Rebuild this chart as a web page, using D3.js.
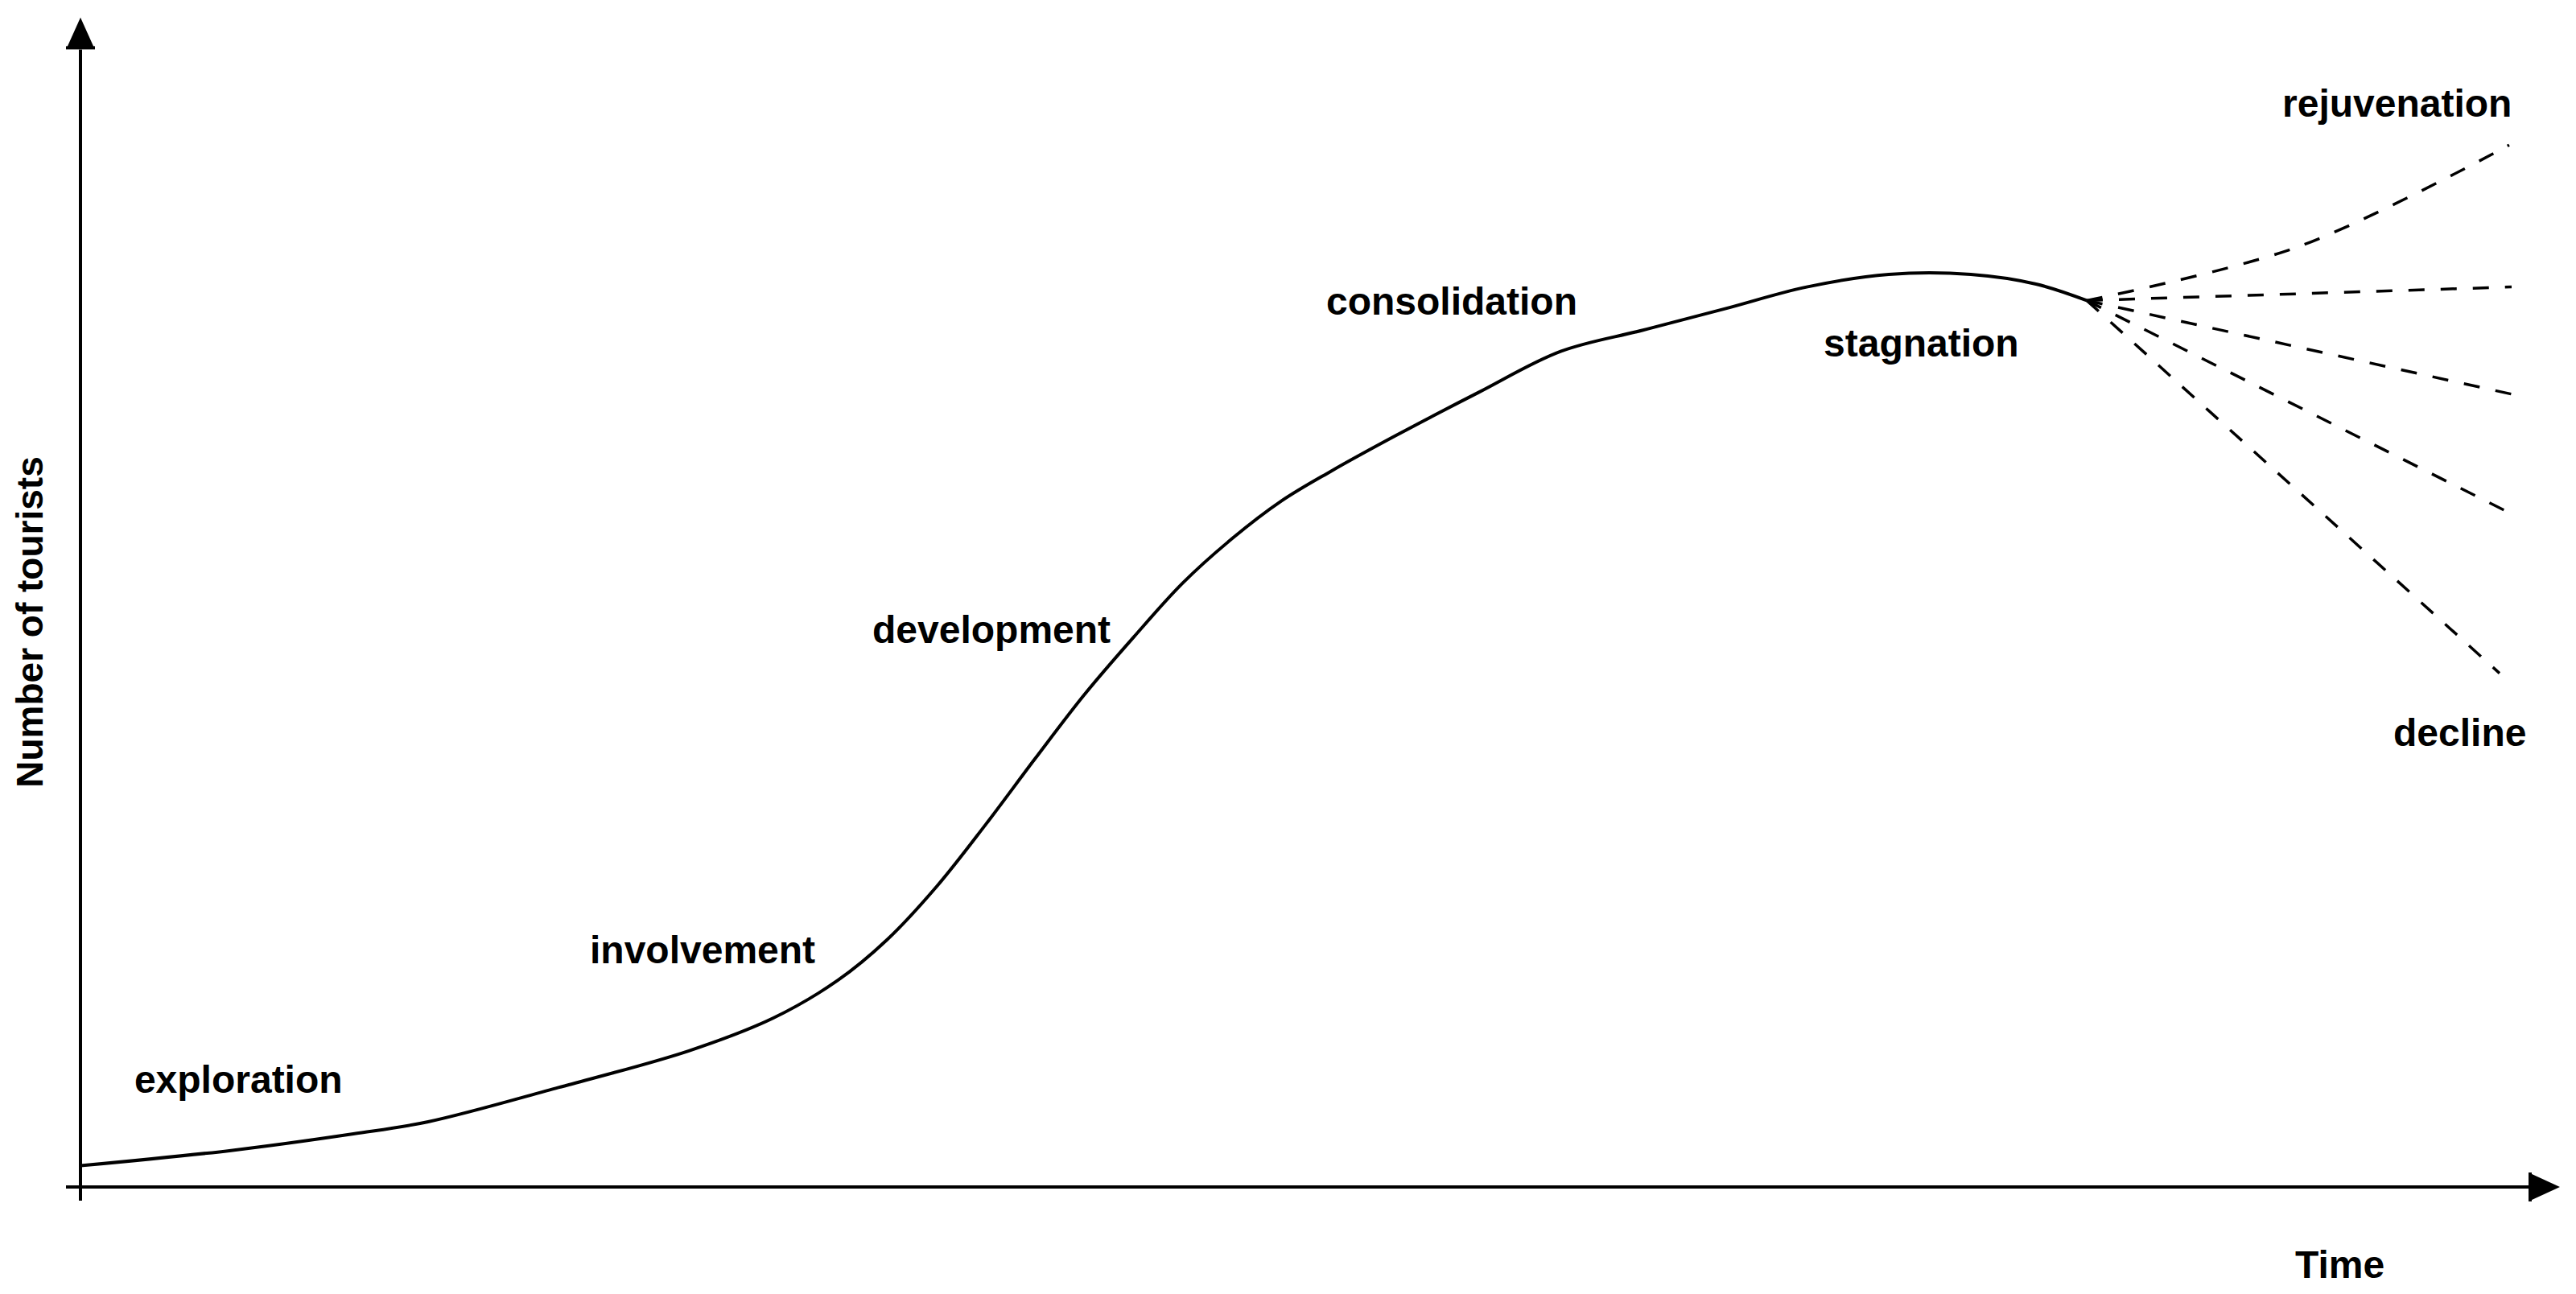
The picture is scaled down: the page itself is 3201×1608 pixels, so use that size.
<!DOCTYPE html>
<html>
<head>
<meta charset="utf-8">
<script src="https://cdn.jsdelivr.net/npm/d3@7"></script>
<style>
  html, body { margin: 0; padding: 0; background: #fff; }
  svg { display: block; }
  text { font-family: "Liberation Sans", Arial, sans-serif; font-weight: bold; fill: #000; }
</style>
</head>
<body>
<svg id="chart" width="3201" height="1608"></svg>
<script>
// ---- data (time units 0..100, tourists units 0..100) ----
const mainTime     = [0, 6.3, 11.3, 14.4, 19.8, 25.2, 28.7, 31.37, 33.41, 35.46, 37.50, 39.54, 41.58, 43.62, 45.66, 47.70, 49.75, 51.79, 54.51, 57.91, 61.31, 64.72, 68.12, 71.5, 74.9, 78.3, 81.0, 83.1];
const mainTourists = [2.2, 3.8, 5.5, 6.75, 10.3, 14.1, 17.5, 21.4, 25.6, 31.1, 37.55, 44.35, 50.98, 56.93, 62.55, 67.14, 71.05, 74.11, 77.85, 82.28, 86.53, 88.73, 90.95, 93.2, 94.5, 94.5, 93.5, 91.8];

// branch scenarios after stagnation: [time, tourists] after the junction
const branchNames = ["rejuvenation", "stable", "slight decline", "decline-2", "decline"];
const branchTime     = [[91.9, 100.6], [100.7], [100.7], [100.7], [100.2]];
const branchTourists = [[97.4, 107.9], [93.2], [82.1], [69.7], [53.2]];

const stageLabels = ["exploration", "involvement", "development", "consolidation", "stagnation", "rejuvenation", "decline"];
const stageTime     = [2.23, 21.1, 32.8, 51.6, 72.2, 91.2, 95.8];
const stageTourists = [9.75, 23.2, 56.3, 90.3, 86.0, 110.8, 45.7];

const xTitle = "Time";
const yTitle = "Number of tourists";

// ---- scales ----
const x = d3.scaleLinear().domain([0, 100]).range([100, 3100]);
const y = d3.scaleLinear().domain([0, 100]).range([1475, 275]);

const svg = d3.select("#chart");

// ---- axes ----
svg.append("line")
  .attr("x1", x(-0.6)).attr("x2", x(101.4))
  .attr("y1", y(0)).attr("y2", y(0))
  .attr("stroke", "#000").attr("stroke-width", 4);
svg.append("line")
  .attr("x1", x(0)).attr("x2", x(0))
  .attr("y1", y(-1.42)).attr("y2", y(117.8))
  .attr("stroke", "#000").attr("stroke-width", 4);

// arrow heads
const ax0 = x(0), ay0 = y(0);
svg.append("path")
  .attr("d", `M${ax0},${y(121.1)} L${ax0 - 17},${y(117.8) - 2} L${ax0 + 17},${y(117.8) - 2} Z`)
  .attr("fill", "#000");
svg.append("rect")
  .attr("x", ax0 - 18).attr("y", y(117.8) - 4).attr("width", 36).attr("height", 4).attr("fill", "#000");
svg.append("path")
  .attr("d", `M${x(102.7)},${ay0} L${x(101.4) + 2},${ay0 - 17} L${x(101.4) + 2},${ay0 + 17} Z`)
  .attr("fill", "#000");
svg.append("rect")
  .attr("x", x(101.4)).attr("y", ay0 - 18).attr("width", 4).attr("height", 36).attr("fill", "#000");

// ---- main curve ----
const mainData = mainTime.map((t, i) => [t, mainTourists[i]]);
const line = d3.line().x(d => x(d[0])).y(d => y(d[1])).curve(d3.curveCatmullRom.alpha(0.5));

svg.append("path")
  .datum(mainData)
  .attr("d", line)
  .attr("fill", "none")
  .attr("stroke", "#000")
  .attr("stroke-width", 4);

// ---- dashed branches ----
const junction = mainData[mainData.length - 1];
branchTime.forEach((ts, i) => {
  const pts = [junction].concat(ts.map((t, j) => [t, branchTourists[i][j]]));
  svg.append("path")
    .datum(pts)
    .attr("d", line)
    .attr("fill", "none")
    .attr("stroke", "#000")
    .attr("stroke-width", 3.5)
    .attr("stroke-dasharray", "20,20");
});

// ---- labels ----
stageLabels.forEach((s, i) => {
  svg.append("text")
    .attr("x", x(stageTime[i]))
    .attr("y", y(stageTourists[i]))
    .attr("font-size", 48)
    .text(s);
});

svg.append("text")
  .attr("x", 2852).attr("y", 1588)
  .attr("font-size", 48)
  .text(xTitle);

svg.append("text")
  .attr("transform", "translate(53,773) rotate(-90)")
  .attr("text-anchor", "middle")
  .attr("font-size", 46)
  .text(yTitle);
</script>
</body>
</html>
